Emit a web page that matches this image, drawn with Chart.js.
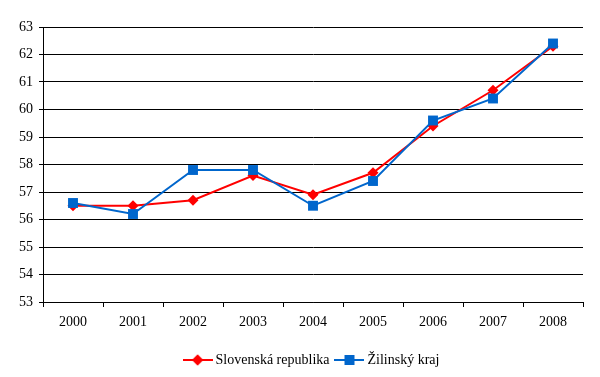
<!DOCTYPE html>
<html>
<head>
<meta charset="utf-8">
<script src="https://cdn.jsdelivr.net/npm/chart.js@4/dist/chart.umd.min.js"></script>
<style>
  html, body { margin: 0; padding: 0; background: #fff; }
  #wrap { position: relative; width: 600px; height: 377px; }
</style>
</head>
<body>
<div id="wrap"><canvas id="c"></canvas></div>
<script>
// years on the x axis
const years = ['2000', '2001', '2002', '2003', '2004', '2005', '2006', '2007', '2008'];
// Slovenská republika
const slovensko = [56.5, 56.5, 56.7, 57.6, 56.9, 57.7, 59.4, 60.7, 62.3];
// Žilinský kraj
const zilina = [56.6, 56.2, 57.8, 57.8, 56.5, 57.4, 59.6, 60.4, 62.4];
const yMin = 53, yMax = 63;

const RED = '#FF0000';
const BLUE = '#0066CC';

// small canvas with a line and the marker, used as legend symbol
function legendIcon(color, style, r) {
    const cv = document.createElement('canvas');
    cv.width = 30; cv.height = 16;
    const ctx = cv.getContext('2d');
    ctx.strokeStyle = color;
    ctx.lineWidth = 2;
    ctx.beginPath();
    ctx.moveTo(0, 8);
    ctx.lineTo(30, 8);
    ctx.stroke();
    ctx.fillStyle = color;
    Chart.helpers.drawPoint(ctx, { pointStyle: style, radius: r, borderWidth: 0 }, 15, 8);
    ctx.fill();
    return cv;
}

const font = { family: '"Liberation Serif", "Times New Roman", serif', size: 14 };

new Chart(document.getElementById('c'), {
    type: 'line',
    data: {
        labels: years,
        datasets: [
            {
                label: 'Slovenská republika',
                data: slovensko,
                borderColor: RED,
                backgroundColor: RED,
                borderWidth: 2,
                pointStyle: 'rectRot',
                pointRadius: 5.5,
                pointBorderWidth: 0,
                tension: 0,
                order: 1
            },
            {
                label: 'Žilinský kraj',
                data: zilina,
                borderColor: BLUE,
                backgroundColor: BLUE,
                borderWidth: 2,
                pointStyle: 'rect',
                pointRadius: 7,
                pointBorderWidth: 0,
                tension: 0,
                order: 0
            }
        ]
    },
    options: {
        responsive: true,
        maintainAspectRatio: false,
        animation: false,
        layout: { padding: { top: 27, right: 17, left: 0, bottom: 0 } },
        plugins: {
            tooltip: { enabled: false },
            legend: {
                position: 'bottom',
                fullSize: false,
                labels: {
                    color: '#000',
                    font: font,
                    usePointStyle: true,
                    pointStyleWidth: 22,
                    padding: 9,
                    generateLabels(chart) {
                        return chart.data.datasets.map((ds, i) => ({
                            text: ds.label,
                            datasetIndex: i,
                            fontColor: '#000',
                            pointStyle: legendIcon(ds.borderColor, ds.pointStyle, ds.pointRadius),
                            lineWidth: 0,
                            hidden: false
                        }));
                    }
                }
            }
        },
        scales: {
            x: {
                offset: true,
                grid: { display: true, drawOnChartArea: false, offset: true, color: '#000', tickLength: 5 },
                border: { color: '#000', width: 1 },
                ticks: { color: '#000', font: font, padding: 7, maxRotation: 0 },
                afterFit(scale) { scale.height = 42; }
            },
            y: {
                min: yMin,
                max: yMax,
                grid: { color: '#000', lineWidth: 1, tickLength: 4 },
                border: { color: '#000', width: 1 },
                ticks: { color: '#000', font: font, stepSize: 1, padding: 6 },
                afterFit(scale) { scale.width = 43; }
            }
        }
    }
});
</script>
</body>
</html>
